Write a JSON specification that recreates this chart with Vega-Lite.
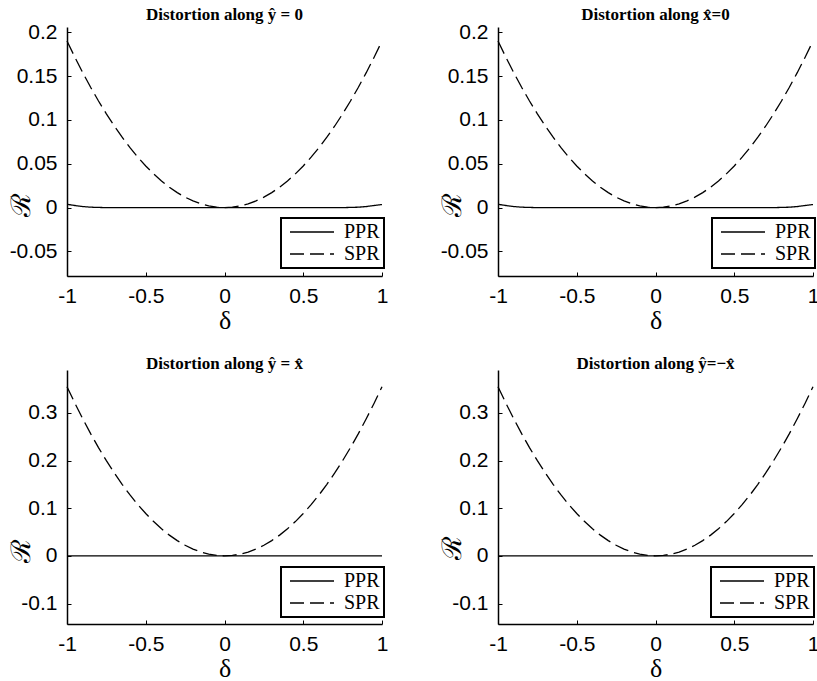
{
  "$schema": "https://vega.github.io/schema/vega-lite/v6.json",
  "background": "white",
  "padding": {"left": 7, "top": 6, "right": 0, "bottom": 0},
  "datasets": {
    "axial": [
      {"s": "SPR", "d": -1, "r": 0.19}, {"s": "SPR", "d": -0.95, "r": 0.1715}, {"s": "SPR", "d": -0.9, "r": 0.1539}, {"s": "SPR", "d": -0.85, "r": 0.1373},
      {"s": "SPR", "d": -0.8, "r": 0.1216}, {"s": "SPR", "d": -0.75, "r": 0.1069}, {"s": "SPR", "d": -0.7, "r": 0.0931}, {"s": "SPR", "d": -0.65, "r": 0.0803},
      {"s": "SPR", "d": -0.6, "r": 0.0684}, {"s": "SPR", "d": -0.55, "r": 0.0575}, {"s": "SPR", "d": -0.5, "r": 0.0475}, {"s": "SPR", "d": -0.45, "r": 0.0385},
      {"s": "SPR", "d": -0.4, "r": 0.0304}, {"s": "SPR", "d": -0.35, "r": 0.0233}, {"s": "SPR", "d": -0.3, "r": 0.0171}, {"s": "SPR", "d": -0.25, "r": 0.0119},
      {"s": "SPR", "d": -0.2, "r": 0.0076}, {"s": "SPR", "d": -0.15, "r": 0.0043}, {"s": "SPR", "d": -0.1, "r": 0.0019}, {"s": "SPR", "d": -0.05, "r": 0.0005},
      {"s": "SPR", "d": 0, "r": 0},
      {"s": "SPR", "d": 0.05, "r": 0.0005}, {"s": "SPR", "d": 0.1, "r": 0.0019}, {"s": "SPR", "d": 0.15, "r": 0.0043}, {"s": "SPR", "d": 0.2, "r": 0.0076},
      {"s": "SPR", "d": 0.25, "r": 0.0119}, {"s": "SPR", "d": 0.3, "r": 0.0171}, {"s": "SPR", "d": 0.35, "r": 0.0233}, {"s": "SPR", "d": 0.4, "r": 0.0304},
      {"s": "SPR", "d": 0.45, "r": 0.0385}, {"s": "SPR", "d": 0.5, "r": 0.0475}, {"s": "SPR", "d": 0.55, "r": 0.0575}, {"s": "SPR", "d": 0.6, "r": 0.0684},
      {"s": "SPR", "d": 0.65, "r": 0.0803}, {"s": "SPR", "d": 0.7, "r": 0.0931}, {"s": "SPR", "d": 0.75, "r": 0.1069}, {"s": "SPR", "d": 0.8, "r": 0.1216},
      {"s": "SPR", "d": 0.85, "r": 0.1373}, {"s": "SPR", "d": 0.9, "r": 0.1539}, {"s": "SPR", "d": 0.95, "r": 0.1715}, {"s": "SPR", "d": 1, "r": 0.19},
      {"s": "PPR", "d": -1, "r": 0.0038}, {"s": "PPR", "d": -0.95, "r": 0.0024}, {"s": "PPR", "d": -0.9, "r": 0.0012}, {"s": "PPR", "d": -0.85, "r": 0.0005},
      {"s": "PPR", "d": -0.8, "r": 0.0002}, {"s": "PPR", "d": -0.75, "r": 0}, {"s": "PPR", "d": 0, "r": 0}, {"s": "PPR", "d": 0.75, "r": 0},
      {"s": "PPR", "d": 0.8, "r": 0.0002}, {"s": "PPR", "d": 0.85, "r": 0.0005}, {"s": "PPR", "d": 0.9, "r": 0.0012}, {"s": "PPR", "d": 0.95, "r": 0.0024},
      {"s": "PPR", "d": 1, "r": 0.0035}
    ],
    "diag": [
      {"s": "SPR", "d": -1, "r": 0.355}, {"s": "SPR", "d": -0.95, "r": 0.3204}, {"s": "SPR", "d": -0.9, "r": 0.2876}, {"s": "SPR", "d": -0.85, "r": 0.2565},
      {"s": "SPR", "d": -0.8, "r": 0.2272}, {"s": "SPR", "d": -0.75, "r": 0.1997}, {"s": "SPR", "d": -0.7, "r": 0.174}, {"s": "SPR", "d": -0.65, "r": 0.15},
      {"s": "SPR", "d": -0.6, "r": 0.1278}, {"s": "SPR", "d": -0.55, "r": 0.1074}, {"s": "SPR", "d": -0.5, "r": 0.0888}, {"s": "SPR", "d": -0.45, "r": 0.0719},
      {"s": "SPR", "d": -0.4, "r": 0.0568}, {"s": "SPR", "d": -0.35, "r": 0.0435}, {"s": "SPR", "d": -0.3, "r": 0.032}, {"s": "SPR", "d": -0.25, "r": 0.0222},
      {"s": "SPR", "d": -0.2, "r": 0.0142}, {"s": "SPR", "d": -0.15, "r": 0.008}, {"s": "SPR", "d": -0.1, "r": 0.0036}, {"s": "SPR", "d": -0.05, "r": 0.0009},
      {"s": "SPR", "d": 0, "r": 0},
      {"s": "SPR", "d": 0.05, "r": 0.0009}, {"s": "SPR", "d": 0.1, "r": 0.0036}, {"s": "SPR", "d": 0.15, "r": 0.008}, {"s": "SPR", "d": 0.2, "r": 0.0142},
      {"s": "SPR", "d": 0.25, "r": 0.0222}, {"s": "SPR", "d": 0.3, "r": 0.032}, {"s": "SPR", "d": 0.35, "r": 0.0435}, {"s": "SPR", "d": 0.4, "r": 0.0568},
      {"s": "SPR", "d": 0.45, "r": 0.0719}, {"s": "SPR", "d": 0.5, "r": 0.0888}, {"s": "SPR", "d": 0.55, "r": 0.1074}, {"s": "SPR", "d": 0.6, "r": 0.1278},
      {"s": "SPR", "d": 0.65, "r": 0.15}, {"s": "SPR", "d": 0.7, "r": 0.174}, {"s": "SPR", "d": 0.75, "r": 0.1997}, {"s": "SPR", "d": 0.8, "r": 0.2272},
      {"s": "SPR", "d": 0.85, "r": 0.2565}, {"s": "SPR", "d": 0.9, "r": 0.2876}, {"s": "SPR", "d": 0.95, "r": 0.3204}, {"s": "SPR", "d": 1, "r": 0.355},
      {"s": "PPR", "d": -1, "r": 0}, {"s": "PPR", "d": 0, "r": 0}, {"s": "PPR", "d": 1, "r": 0}
    ]
  },
  "config": {
    "view": {"stroke": null},
    "axis": {
      "grid": false,
      "domainColor": "black",
      "domainWidth": 1.5,
      "tickColor": "black",
      "tickWidth": 1,
      "tickSize": -4,
      "labelFont": "Liberation Sans",
      "labelFontSize": 21,
      "labelColor": "black",
      "labelExpr": "'' + datum.value",
      "labelOverlap": false,
      "labelFlush": false,
      "titleFont": "Liberation Serif",
      "titleFontSize": 27,
      "titleFontWeight": "normal",
      "titleColor": "black"
    },
    "axisX": {"labelPadding": 13, "titlePadding": 1, "titleFontSize": 26},
    "axisY": {"labelPadding": 14, "titleX": -46, "titleAlign": "center", "titleBaseline": "middle", "titleAngle": -90},
    "title": {"font": "Liberation Serif", "fontSize": 17, "fontWeight": "bold", "color": "black", "offset": -3, "anchor": "middle"},
    "legend": {
      "orient": "none",
      "title": null,
      "direction": "vertical",
      "strokeColor": "black",
      "strokeWidth": 2,
      "fillColor": "white",
      "padding": 4,
      "symbolType": "M-4,0H4",
      "symbolSize": 121,
      "symbolOffset": 17,
      "symbolStrokeWidth": 1.5,
      "symbolStrokeColor": "black",
      "labelFont": "Liberation Serif",
      "labelFontSize": 20,
      "labelColor": "black",
      "labelOffset": 22,
      "rowPadding": 2
    },
    "line": {"color": "black", "strokeWidth": 1.3}
  },
  "bounds": "flush",
  "columns": 2,
  "spacing": {"row": 94, "column": 116},
  "concat": [
    {
      "width": 315, "height": 249,
      "title": "Distortion along  ŷ = 0",
      "data": {"name": "axial"},
      "mark": {"type": "line"},
      "encoding": {
        "x": {"field": "d", "type": "quantitative", "scale": {"domain": [-1, 1], "nice": false}, "axis": {"title": "δ", "values": [-1, -0.5, 0, 0.5, 1]}},
        "y": {"field": "r", "type": "quantitative", "scale": {"domain": [-0.078, 0.206], "nice": false, "zero": false}, "axis": {"title": "ℛ", "titleY": 177, "values": [-0.05, 0, 0.05, 0.1, 0.15, 0.2]}},
        "strokeDash": {"field": "s", "type": "nominal", "scale": {"domain": ["PPR", "SPR"], "range": [[1, 0], [14, 6]]}, "legend": {"legendX": 214, "legendY": 191}}
      }
    },
    {
      "width": 315, "height": 249,
      "title": "Distortion along  x̂=0",
      "data": {"name": "axial"},
      "mark": {"type": "line"},
      "encoding": {
        "x": {"field": "d", "type": "quantitative", "scale": {"domain": [-1, 1], "nice": false}, "axis": {"title": "δ", "values": [-1, -0.5, 0, 0.5, 1]}},
        "y": {"field": "r", "type": "quantitative", "scale": {"domain": [-0.078, 0.206], "nice": false, "zero": false}, "axis": {"title": "ℛ", "titleY": 177, "values": [-0.05, 0, 0.05, 0.1, 0.15, 0.2]}},
        "strokeDash": {"field": "s", "type": "nominal", "scale": {"domain": ["PPR", "SPR"], "range": [[1, 0], [14, 6]]}, "legend": {"legendX": 214, "legendY": 191}}
      }
    },
    {
      "width": 315, "height": 254,
      "title": "Distortion along  ŷ = x̂",
      "data": {"name": "diag"},
      "mark": {"type": "line"},
      "encoding": {
        "x": {"field": "d", "type": "quantitative", "scale": {"domain": [-1, 1], "nice": false}, "axis": {"title": "δ", "values": [-1, -0.5, 0, 0.5, 1]}},
        "y": {"field": "r", "type": "quantitative", "scale": {"domain": [-0.143, 0.39], "nice": false, "zero": false}, "axis": {"title": "ℛ", "titleY": 180, "values": [-0.1, 0, 0.1, 0.2, 0.3]}},
        "strokeDash": {"field": "s", "type": "nominal", "scale": {"domain": ["PPR", "SPR"], "range": [[1, 0], [14, 6]]}, "legend": {"legendX": 214, "legendY": 197}}
      }
    },
    {
      "width": 315, "height": 254,
      "title": "Distortion along  ŷ=−x̂",
      "data": {"name": "diag"},
      "mark": {"type": "line"},
      "encoding": {
        "x": {"field": "d", "type": "quantitative", "scale": {"domain": [-1, 1], "nice": false}, "axis": {"title": "δ", "values": [-1, -0.5, 0, 0.5, 1]}},
        "y": {"field": "r", "type": "quantitative", "scale": {"domain": [-0.143, 0.39], "nice": false, "zero": false}, "axis": {"title": "ℛ", "titleY": 177, "values": [-0.1, 0, 0.1, 0.2, 0.3]}},
        "strokeDash": {"field": "s", "type": "nominal", "scale": {"domain": ["PPR", "SPR"], "range": [[1, 0], [14, 6]]}, "legend": {"legendX": 213, "legendY": 197}}
      }
    }
  ],
  "resolve": {"scale": {"strokeDash": "independent"}, "legend": {"strokeDash": "independent"}}
}
